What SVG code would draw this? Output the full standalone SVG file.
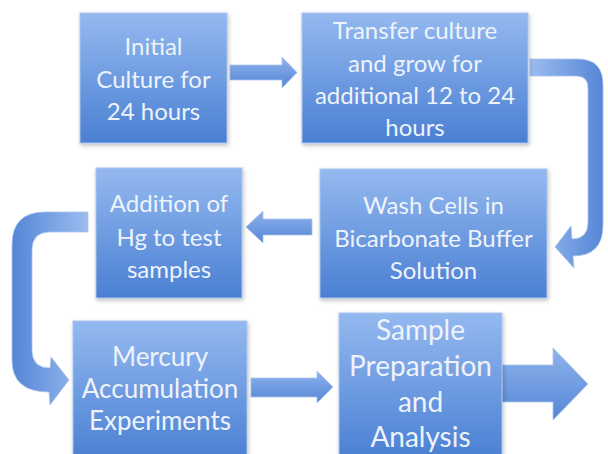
<svg xmlns="http://www.w3.org/2000/svg" width="608" height="454" viewBox="0 0 608 454">
<defs>
<linearGradient id="boxg" x1="0" y1="0" x2="0" y2="1">
<stop offset="0" stop-color="#94b9f0"/>
<stop offset="1" stop-color="#4a7fd2"/>
</linearGradient>
<linearGradient id="arrg" x1="0" y1="0" x2="0" y2="1">
<stop offset="0" stop-color="#8fb3ec"/>
<stop offset="1" stop-color="#5586d6"/>
</linearGradient>
<linearGradient id="arrh" x1="0" y1="0" x2="1" y2="0">
<stop offset="0" stop-color="#5586d6"/>
<stop offset="1" stop-color="#9bbcf0"/>
</linearGradient>
<linearGradient id="arrh2" x1="0" y1="0" x2="1" y2="0">
<stop offset="0" stop-color="#9bbcf0"/>
<stop offset="1" stop-color="#5586d6"/>
</linearGradient>
<filter id="sh" x="-10%" y="-10%" width="130%" height="130%">
<feDropShadow dx="1" dy="2" stdDeviation="2" flood-color="#000" flood-opacity="0.25"/>
</filter>
</defs>
<style>
.box{fill:url(#boxg);stroke:#a9c4ee;stroke-width:1;filter:url(#sh)}
.t{font-family:Lato,"Open Sans","Liberation Sans",sans-serif;fill:#eef3fb;text-anchor:middle;font-size:24px}
.arr{stroke:#a9c4ee;stroke-width:0.8}
</style>
<rect width="608" height="454" fill="#ffffff"/>
<g id="connectors">
<polygon class="arr" fill="url(#arrg)" points="230,65 282,65 282,57 297,72.5 282,88 282,80 230,80"/>
<path class="arr" fill="url(#arrh2)" d="M530,59 L578,59 Q603,59 603,85 L603,225 Q603,256 573,256 L574,268 L555,247 L571,226 L572,239 Q588,239 588,222 L588,88 Q588,76 576,76 L530,76 Z"/>
<polygon class="arr" fill="url(#arrg)" points="312,219 263,219 263,211 246,227 263,243 263,235 312,235"/>
<path class="arr" fill="url(#arrh)" d="M88,212 L45,212 Q12,212 12,245 L12,360 Q12,392 49,392 L50,405 L69,380 L51,357 L50,368 Q32,368 32,350 L32,250 Q32,232 50,232 L88,232 Z"/>
<polygon class="arr" fill="url(#arrg)" points="251,378 317,378 317,371 333,387 317,403 317,397 251,397"/>
<polygon class="arr" fill="url(#arrg)" points="502,365 553,365 553,348 588,384 553,420 553,402 502,402"/>
</g>
<g id="n1">
<rect class="box" x="80" y="13" width="147" height="130"/>
<text class="t" x="153.5" y="55">Initial</text>
<text class="t" x="153.5" y="88">Culture for</text>
<text class="t" x="153.5" y="120">24 hours</text>
</g>
<g id="n2">
<rect class="box" x="302" y="13" width="226" height="130"/>
<text class="t" x="415" y="39">Transfer culture</text>
<text class="t" x="415" y="72">and grow for</text>
<text class="t" x="415" y="104">additional 12 to 24</text>
<text class="t" x="415" y="136">hours</text>
</g>
<g id="n3">
<rect class="box" x="320" y="169" width="227" height="129"/>
<text class="t" x="433.5" y="214">Wash Cells in</text>
<text class="t" x="433.5" y="247">Bicarbonate Buffer</text>
<text class="t" x="433.5" y="279">Solution</text>
</g>
<g id="n4">
<rect class="box" x="96" y="168" width="146" height="130"/>
<text class="t" x="169" y="212">Addition of</text>
<text class="t" x="169" y="246">Hg to test</text>
<text class="t" x="169" y="278">samples</text>
</g>
<g id="n5">
<rect class="box" x="73" y="321" width="174" height="140"/>
<text class="t" x="160" y="366" style="font-size:26px">Mercury</text>
<text class="t" x="160" y="398" style="font-size:26px">Accumulation</text>
<text class="t" x="160" y="430" style="font-size:26px">Experiments</text>
</g>
<g id="n6">
<rect class="box" x="339" y="313" width="163" height="148"/>
<text class="t" x="420.5" y="340" style="font-size:28px">Sample</text>
<text class="t" x="420.5" y="376" style="font-size:28px">Preparation</text>
<text class="t" x="420.5" y="412" style="font-size:28px">and</text>
<text class="t" x="420.5" y="447" style="font-size:28px">Analysis</text>
</g>
</svg>
